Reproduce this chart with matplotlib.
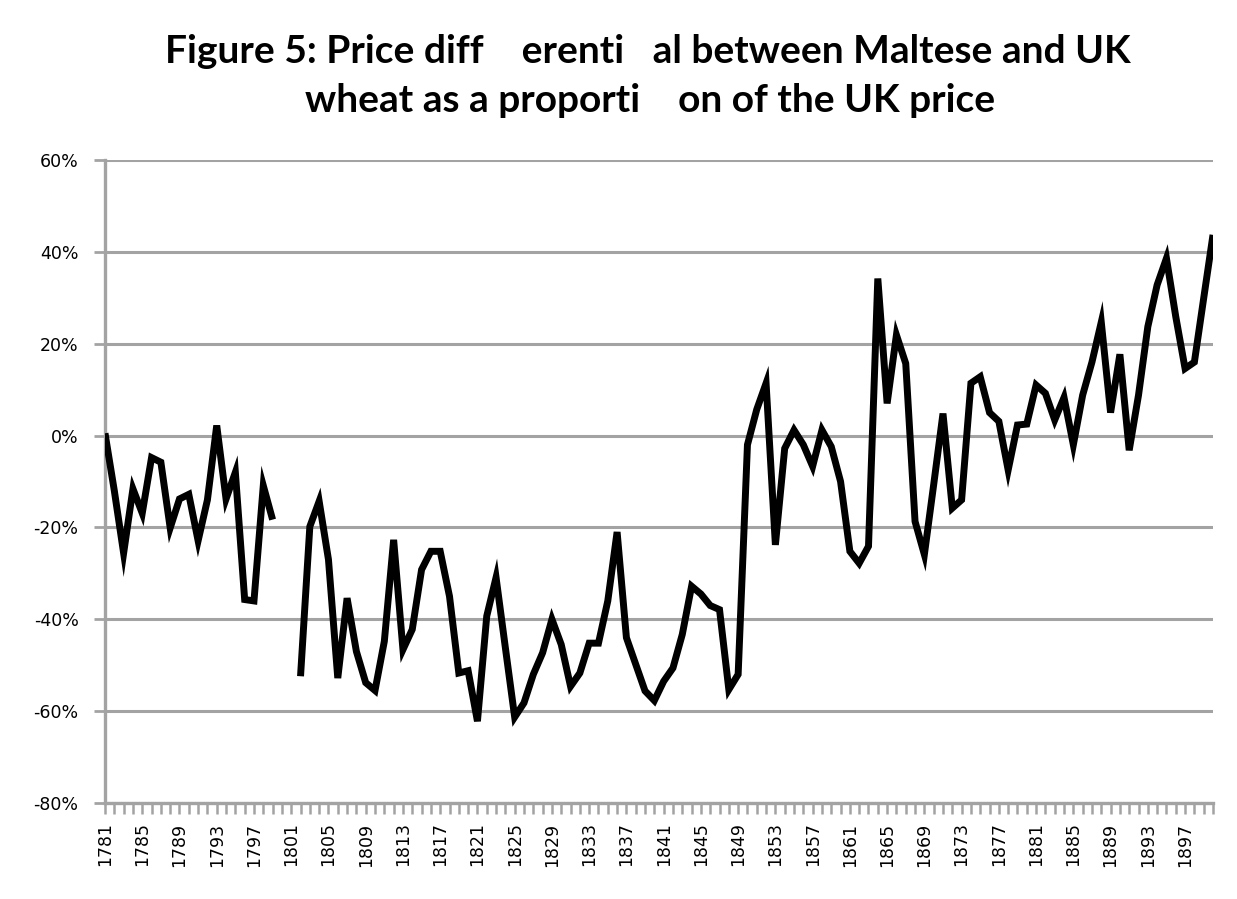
import numpy as np
import matplotlib.pyplot as plt
from matplotlib.ticker import FuncFormatter

# Years on the category axis
years = list(range(1781, 1901))

# Price differential (Maltese vs UK) as % of UK price; None = no data
diff_1781_1799 = [0.5, -12, -25.6, -11.6, -16.9, -4.8, -5.8, -20.1, -13.8, -12.8,
                  -22.9, -14.0, 2.2, -13.8, -8.0, -35.7, -36.0, -10.9, -18.3]
diff_gap = [None, None]
diff_1802_1849 = [-52.4, -19.8, -14.3, -27.0, -52.8, -35.4, -47.0, -53.8, -55.5, -44.8,
                  -22.7, -46.6, -42.2, -29.2, -25.2, -25.2, -35.0, -51.7, -51.2, -62.2,
                  -39.3, -30.9, -46.2, -61.3, -58.2, -52.0, -47.3, -40.0, -45.5, -54.6,
                  -51.7, -45.2, -45.2, -36.0, -21.0, -44.0, -49.8, -55.6, -57.7, -53.5,
                  -50.6, -43.3, -32.8, -34.5, -37.0, -37.9, -55.3, -52.0]
diff_1850_1900 = [-2.0, 5.7, 11.4, -23.8, -2.8, 1.2, -2.0, -6.7, 1.2, -2.4,
                  -10.0, -25.2, -27.8, -24.1, 34.2, 7.0, 21.9, 15.7, -18.7, -25.9,
                  -10.7, 4.8, -15.8, -14.0, 11.4, 12.8, 5.0, 3.1, -7.5, 2.3,
                  2.5, 11.0, 9.2, 3.4, 8.3, -2.0, 8.8, 16.0, 24.7, 5.0,
                  17.7, -3.2, 8.8, 23.7, 32.8, 38.6, 25.9, 14.6, 16.0, 29.9,
                  43.7]

title_line1 = "Figure 5: Price diff    erenti   al between Maltese and UK"
title_line2 = "wheat as a proporti    on of the UK price"

values = diff_1781_1799 + diff_gap + diff_1802_1849 + diff_1850_1900
values = np.array([np.nan if v is None else v for v in values], dtype=float)

grey = '#a3a3a3'

fig = plt.figure(figsize=(12.37, 8.99), dpi=100)
ax = fig.add_axes([105 / 1237, 1 - 803 / 899, (1213 - 105) / 1237, (803 - 160) / 899])

ax.plot(years, values, color='black', lw=5, solid_joinstyle='miter',
        solid_capstyle='butt', zorder=3)

ax.set_xlim(1781, 1900)
ax.set_ylim(-80, 60)

# y axis: gridlines every 20%
ax.set_yticks(range(-80, 61, 20))
ax.yaxis.set_major_formatter(FuncFormatter(lambda v, p: f"{v:.0f}%"))
ax.grid(axis='y', color=grey, lw=2.2, zorder=1)
ax.tick_params(axis='y', length=8, width=2, color=grey, pad=11,
               labelsize=12.5)

# x axis: a tick every year, label every 4 years
ax.set_xticks(list(range(1781, 1901, 4)))
ax.set_xticks(years, minor=True)
ax.set_xticklabels([str(y) for y in range(1781, 1901, 4)], rotation=90)
ax.tick_params(axis='x', which='both', length=8, width=1.8, color=grey,
               pad=6, labelsize=12.5)

for side in ['top', 'right']:
    ax.spines[side].set_visible(False)
for side in ['left', 'bottom']:
    ax.spines[side].set_color(grey)
    ax.spines[side].set_linewidth(2.4)

fig.text(648 / 1237, 1 - 63 / 899, title_line1, ha='center', va='baseline',
         fontsize=28, fontweight='bold', family='Lato')
fig.text(650 / 1237, 1 - 112 / 899, title_line2, ha='center', va='baseline',
         fontsize=28, fontweight='bold', family='Lato')

fig.savefig('out.png', dpi=100, facecolor='white')
